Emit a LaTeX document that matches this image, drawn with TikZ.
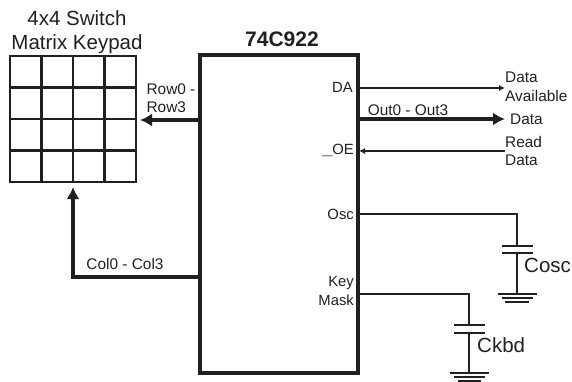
\documentclass[tikz,border=0pt]{standalone}
\usepackage{fontspec}
\setmainfont{Liberation Sans}
\usepackage{xcolor}
\usetikzlibrary{arrows.meta}
\definecolor{inkblack}{RGB}{35, 31, 32}

\begin{document}
\begin{tikzpicture}[
  x=1pt, y=-1pt, color=inkblack,
  chipbox/.style={rectangle, draw=inkblack, line width=4pt, minimum width=158pt, minimum height=317pt, inner sep=0pt},
  padbox/.style={rectangle, draw=inkblack, line width=2.6pt, minimum width=126pt, minimum height=126pt, inner sep=0pt},
  pin/.style={font=\fontsize{14.8}{19}\selectfont, inner sep=0pt, align=right},
  tag/.style={font=\fontsize{15.4}{18.5}\selectfont, inner sep=0pt, align=left},
  title/.style={font=\fontsize{20.5}{24}\selectfont, inner sep=0pt, align=center},
  partname/.style={font=\fontsize{20.5}{24}\selectfont, inner sep=0pt, anchor=west},
  wire/.style={line width=2.8pt},
  thinarrow/.style={line width=2.8pt, -{Latex[length=6pt, width=6pt]}},
  busarrow/.style={line width=4pt, -{Latex[length=12pt, width=13pt]}},
  plate/.style={line width=2.8pt},
  gndline/.style={line width=2.4pt}
]
  \useasboundingbox (0,0) rectangle (572,382);

  % keypad and chip
  \node[padbox] (pad)  at (73,119)    {};
  \node[chipbox] (chip) at (279,214)  {};
  \foreach \i in {1,2,3} {
    \draw[line width=2.6pt] (10+31.5*\i,56) -- (10+31.5*\i,182);
    \draw[line width=2.6pt] (10,56+31.5*\i) -- (136,56+31.5*\i);
  }
  \node[title] (padname) at (77,32) {4x4 Switch\\Matrix Keypad};
  \node[title, font=\fontsize{21}{24}\selectfont\bfseries] (chipname) at (282,39) {74C922};

  % pin labels
  \node[pin, anchor=east] (da)  at (353,87)  {DA};
  \node[pin, anchor=base east] (oe)  at (354,155) {{\fontsize{18}{18}\selectfont\bfseries\_}OE};
  \node[pin, anchor=east] (osc) at (354,214) {Osc};
  \node[pin, anchor=east] (key) at (354,291) {Key\\Mask};

  % right side
  \node[tag, anchor=west] (avail) at (505,87)  {Data\\Available};
  \node[tag, anchor=west] (data)  at (510,119) {Data};
  \node[tag, anchor=west] (read)  at (505,151) {Read\\Data};
  \coordinate (dapin)  at (358,88);
  \coordinate (outpin) at (358,119);
  \coordinate (oepin)  at (359,151);
  \coordinate (oscpin) at (358,214);
  \coordinate (keypin) at (358,294);
  \coordinate (availend) at (505,88);
  \coordinate (dataend)  at (505,119);
  \coordinate (readend)  at (505,151);

  \draw[thinarrow] (dapin) -- (availend);
  \draw[busarrow]  (outpin) -- (dataend);
  \draw[thinarrow] (readend) -- (oepin);
  \node[tag] (outlabel) at (408,110) {Out0 - Out3};

  % left side
  \coordinate (rowpin) at (200,120);
  \coordinate (rowend) at (140,120);
  \coordinate (colpin) at (200,277);
  \coordinate (colend) at (73,187);
  \draw[busarrow] (rowpin) -- (rowend);
  \draw[busarrow] (colpin) -| (colend);
  \node[tag] (rowlabel) at (171,98) {Row0 -\\Row3};
  \node[tag] (collabel) at (125,264) {Col0 - Col3};

  % capacitors
  \coordinate (cosctop) at (517,246);
  \coordinate (coscbot) at (517,253);
  \coordinate (coscgnd) at (517,294);
  \draw[wire] (oscpin) -| (cosctop);
  \draw[wire] (coscbot) -- (coscgnd);
  \draw[plate] (502,246) -- (533,246);
  \draw[plate] (502,253) -- (533,253);
  \draw[gndline] (498,294) -- (537,294);
  \draw[gndline] (502,298) -- (533,298);
  \draw[gndline] (505,302) -- (529,302);
  \node[partname] (cosc) at (524,265) {Cosc};

  \coordinate (ckbdtop) at (469,325);
  \coordinate (ckbdbot) at (469,333);
  \coordinate (ckbdgnd) at (469,373);
  \draw[wire] (keypin) -| (ckbdtop);
  \draw[wire] (ckbdbot) -- (ckbdgnd);
  \draw[plate] (454,325) -- (485,325);
  \draw[plate] (454,333) -- (485,333);
  \draw[gndline] (450,373) -- (489,373);
  \draw[gndline] (454,377) -- (485,377);
  \draw[gndline] (458,381) -- (481,381);
  \node[partname] (ckbd) at (477,345) {Ckbd};
\end{tikzpicture}
\end{document}
